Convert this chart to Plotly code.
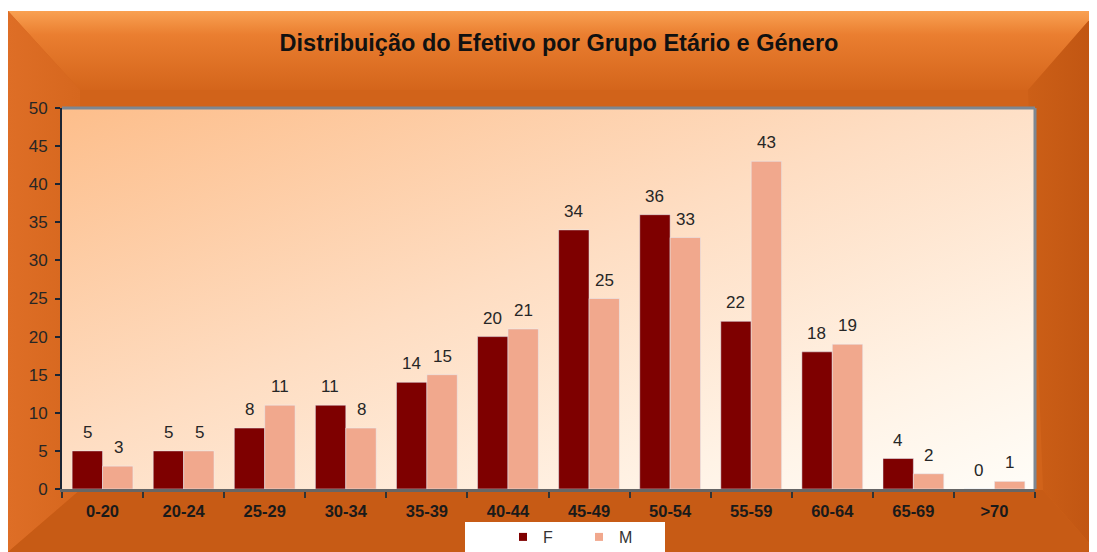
import base64
import plotly.graph_objects as go

categories = ["0-20", "20-24", "25-29", "30-34", "35-39", "40-44",
              "45-49", "50-54", "55-59", "60-64", "65-69", ">70"]
female = [5, 5, 8, 11, 14, 20, 34, 36, 22, 18, 4, 0]
male = [3, 5, 11, 8, 15, 21, 25, 33, 43, 19, 2, 1]
y_ticks = list(range(0, 55, 5))

TITLE = "Distribuição do Efetivo por Grupo Etário e Género"
C_F = "#7E0000"
C_M = "#F1A88D"
FONT = "Arial, 'Liberation Sans', sans-serif"

# page body has an 8px margin, so the figure is drawn 8px in from the window
W, H = 1089, 544
L, R, T, B = 54, 62, 100, 63
PW, PH = W - L - R, H - T - B

svg = f"""<svg xmlns='http://www.w3.org/2000/svg' width='{W}' height='{H}' viewBox='0 0 {W} {H}' preserveAspectRatio='none'>
<defs>
<linearGradient id='tp' x1='0' y1='0' x2='0' y2='1'>
<stop offset='0' stop-color='#F9A152'/><stop offset='0.3' stop-color='#EA7E30'/><stop offset='1' stop-color='#D4651B'/></linearGradient>
<linearGradient id='rt' x1='0' y1='0' x2='1' y2='0'>
<stop offset='0' stop-color='#CC5F17'/><stop offset='1' stop-color='#C05512'/></linearGradient>
<linearGradient id='lf' x1='0' y1='0' x2='1' y2='0'>
<stop offset='0' stop-color='#DE6E26'/><stop offset='1' stop-color='#D6671E'/></linearGradient>
<linearGradient id='pl' x1='0' y1='0' x2='1' y2='1'>
<stop offset='0' stop-color='#FDBE8B'/><stop offset='0.45' stop-color='#FEDDC2'/><stop offset='0.8' stop-color='#FFF3E6'/><stop offset='1' stop-color='#FFFDF8'/></linearGradient>
</defs>
<rect width='{W}' height='{H}' fill='white'/>
<rect x='0' y='3' width='{W}' height='{H-3}' fill='#D1631A'/>
<polygon points='0,3 {W},3 1020,82 72,82' fill='url(#tp)'/>
<polygon points='0,3 72,82 72,482 0,{H}' fill='url(#lf)'/>
<polygon points='{W},3 {W},{H} 1035,482 1020,82' fill='url(#rt)'/>
<polygon points='0,{H} 72,482 1035,482 {W},{H}' fill='#C75B15'/>
<rect x='{L}' y='{T}' width='{PW}' height='{PH}' fill='url(#pl)'/>
<rect x='457' y='514' width='200' height='40' fill='white'/>
</svg>"""
src = "data:image/svg+xml;base64," + base64.b64encode(svg.encode("utf-8")).decode()

fig = go.Figure()
fig.add_trace(go.Bar(x=categories, y=female, name="F", marker_color=C_F,
                     showlegend=False))
fig.add_trace(go.Bar(x=categories, y=male, name="M", marker_color=C_M,
                     showlegend=False))
# legend entries
fig.add_trace(go.Scatter(x=[None], y=[None], mode="markers", name="F",
                         marker=dict(symbol="square", size=8, color=C_F)))
fig.add_trace(go.Scatter(x=[None], y=[None], mode="markers", name="M",
                         marker=dict(symbol="square", size=8, color=C_M)))

annotations = []
for cat, v in zip(categories, female):
    annotations.append(dict(x=cat, y=v, text=str(v), showarrow=False,
                            xshift=-15.5, yshift=7, yanchor="bottom",
                            font=dict(size=17, color="#262626", family=FONT)))
for cat, v in zip(categories, male):
    annotations.append(dict(x=cat, y=v, text=str(v), showarrow=False,
                            xshift=15.5, yshift=7, yanchor="bottom",
                            font=dict(size=17, color="#262626", family=FONT)))

shapes = [
    dict(type="line", xref="paper", yref="paper", x0=0, x1=1, y0=1, y1=1,
         line=dict(color="#7D8792", width=3)),
    dict(type="line", xref="paper", yref="paper", x0=1, x1=1, y0=0, y1=1,
         line=dict(color="#7D8792", width=3)),
]

fig.update_layout(
    width=W, height=H,
    margin=dict(l=L, r=R, t=T, b=B, pad=0, autoexpand=False),
    paper_bgcolor="white",
    plot_bgcolor="rgba(0,0,0,0)",
    barmode="group", bargap=0.25, bargroupgap=0,
    font=dict(family=FONT, color="#262626"),
    title=dict(text="<b>" + TITLE + "</b>", x=551 / W, xanchor="center",
               xref="container", y=1 - 35 / H, yanchor="middle", yref="container",
               font=dict(size=23.5, color="#111111", family=FONT)),
    images=[dict(source=src, xref="paper", yref="paper",
                 x=-L / PW, y=1 + T / PH, sizex=W / PW, sizey=H / PH,
                 xanchor="left", yanchor="top", sizing="stretch",
                 layer="below")],
    annotations=annotations,
    shapes=shapes,
    showlegend=True,
    legend=dict(orientation="h", x=(571 - L) / PW, xanchor="center",
                y=(H - B - 529) / PH, yanchor="middle",
                bgcolor="rgba(0,0,0,0)", entrywidth=31,
                font=dict(size=16, color="#333333", family=FONT),
                itemclick=False),
    xaxis=dict(type="category", tickson="boundaries", ticks="outside",
               ticklen=6, tickwidth=1.5, tickcolor="#333333",
               showline=True, linecolor="#666666", linewidth=3,
               showgrid=False, zeroline=False, ticklabelstandoff=5,
               tickfont=dict(size=16.5, color="#1A1A1A", family=FONT),
               tickprefix="<b>", ticksuffix="</b>",
               range=[-0.5, len(categories) - 0.5]),
    yaxis=dict(range=[0, 50], tickvals=y_ticks, ticks="outside", ticklen=5,
               tickwidth=1.5, tickcolor="#1C2533",
               showline=True, linecolor="#1C2533", linewidth=2,
               showgrid=False, zeroline=False, ticklabelstandoff=4,
               tickfont=dict(size=17, color="#262626", family=FONT)),
)

fig.write_html("out.html")
